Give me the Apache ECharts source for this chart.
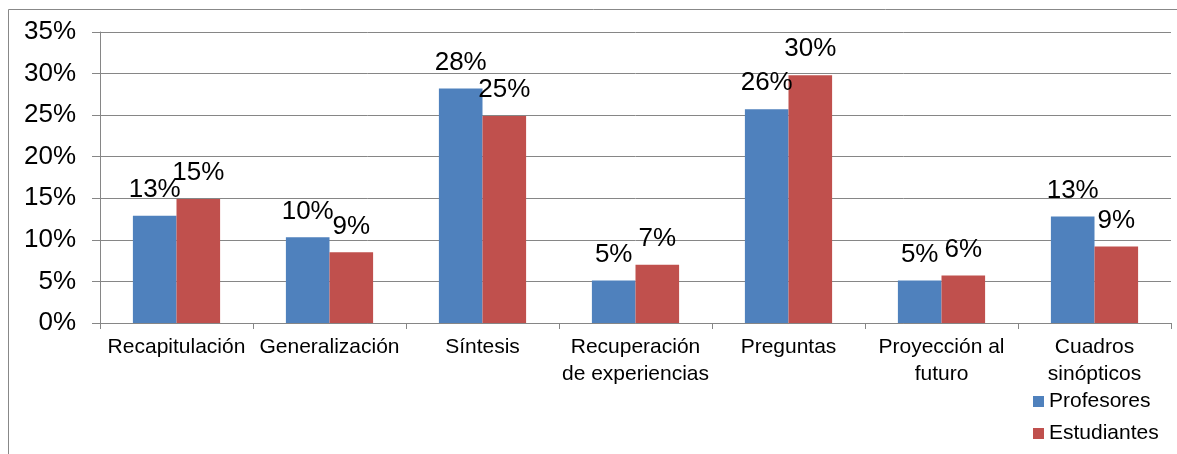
<!DOCTYPE html>
<html>
<head>
<meta charset="utf-8">
<script src="https://cdn.jsdelivr.net/npm/echarts@6/dist/echarts.min.js"></script>
<style>
html,body{margin:0;padding:0;background:#fff;}
#chart{width:1177px;height:454px;}
</style>
</head>
<body>
<div id="chart"></div>
<script>
const categories = ['Recapitulación', 'Generalización', 'Síntesis', 'Recuperación\nde experiencias', 'Preguntas', 'Proyección al\nfuturo', 'Cuadros\nsinópticos'];
const seriesNames = ['Profesores', 'Estudiantes'];
const profesores = [12.9, 10.3, 28.2, 5.1, 25.7, 5.1, 12.8];
const estudiantes = [14.9, 8.5, 24.9, 7.0, 29.8, 5.7, 9.2];
const yMin = 0, yMax = 35, yStep = 5;

const FONT = "'Liberation Sans', Arial, sans-serif";
const chart = echarts.init(document.getElementById('chart'), null, {renderer: 'canvas'});
const labelCfg = {
  show: true, position: 'top', distance: 13,
  fontFamily: FONT, fontSize: 26, lineHeight: 26, color: '#000',
  formatter: p => Math.round(p.value) + '%'
};
chart.setOption({
  animation: false,
  backgroundColor: '#fff',
  textStyle: {fontFamily: FONT},
  graphic: [{
    type: 'rect', left: 6, top: 7, z: -10, silent: true,
    shape: {width: 1300, height: 600},
    style: {fill: 'none', stroke: '#888', lineWidth: 1}
  }],
  grid: {left: 100, right: 6, top: 32, bottom: 131, containLabel: false},
  legend: {
    orient: 'vertical', left: 1033, top: 391, padding: 0,
    itemWidth: 11, itemHeight: 11, itemGap: 11, itemTextGap: 5,
    icon: 'rect',
    textStyle: {fontFamily: FONT, fontSize: 21, lineHeight: 21, color: '#000'},
    data: seriesNames
  },
  xAxis: {
    type: 'category', data: categories, boundaryGap: true,
    axisLine: {lineStyle: {color: '#868686', width: 1}},
    axisTick: {show: true, alignWithLabel: false, length: 6, lineStyle: {color: '#868686'}},
    axisLabel: {interval: 0, margin: 11, fontFamily: FONT, fontSize: 21, lineHeight: 27, color: '#000'},
    splitLine: {show: false}
  },
  yAxis: {
    type: 'value', min: yMin, max: yMax, interval: yStep,
    axisLine: {show: true, lineStyle: {color: '#868686', width: 1}},
    axisTick: {show: true, length: 8, lineStyle: {color: '#868686'}},
    axisLabel: {margin: 24, fontFamily: FONT, fontSize: 26, color: '#000', formatter: '{value}%'},
    splitLine: {show: true, lineStyle: {color: '#868686', width: 1}}
  },
  series: [
    {name: seriesNames[0], type: 'bar', data: profesores, barGap: '0%', barCategoryGap: '43%',
     itemStyle: {color: '#4F81BD'}, label: labelCfg},
    {name: seriesNames[1], type: 'bar', data: estudiantes, barGap: '0%', barCategoryGap: '43%',
     itemStyle: {color: '#C0504D'}, label: labelCfg}
  ]
});
</script>
</body>
</html>
